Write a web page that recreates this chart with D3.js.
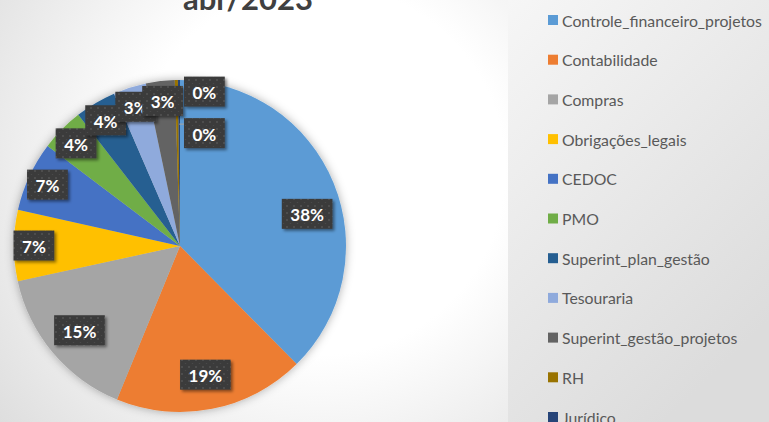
<!DOCTYPE html>
<html>
<head>
<meta charset="utf-8">
<script src="https://cdn.jsdelivr.net/npm/d3@7"></script>
<style>
  html, body { margin: 0; padding: 0; background: #fff; }
  svg { display: block; }
</style>
</head>
<body>
<svg id="chart" width="769" height="422"></svg>
<script>
// Share of demands per area, abr/2023 (percent of total)
const categories = [
  "Controle_financeiro_projetos", "Contabilidade", "Compras", "Obrigações_legais",
  "CEDOC", "PMO", "Superint_plan_gestão", "Tesouraria",
  "Superint_gestão_projetos", "RH", "Jurídico"
];
const shares = [37.6, 18.6, 15.4, 6.9, 6.8, 4.2, 4.0, 3.2, 2.8, 0.3, 0.2];
const colors = [
  "#5B9BD5", "#ED7D31", "#A5A5A5", "#FFC000", "#4472C4", "#70AD47",
  "#255E91", "#8FAADC", "#636363", "#997300", "#264478"
];
const title = "abr/2023";

const W = 769, H = 422;
const svg = d3.select("#chart");
const defs = svg.append("defs");

// Backgrounds: chart area radial fill and legend panel fill
const bg = defs.append("radialGradient").attr("id", "bgGrad")
  .attr("gradientUnits", "userSpaceOnUse").attr("cx", 320).attr("cy", 170).attr("r", 440);
bg.append("stop").attr("offset", "0").attr("stop-color", "#ffffff");
bg.append("stop").attr("offset", "0.42").attr("stop-color", "#ffffff");
bg.append("stop").attr("offset", "1").attr("stop-color", "#d9d9d9");

const lg = defs.append("linearGradient").attr("id", "legGrad")
  .attr("x1", "0").attr("y1", "0").attr("x2", "0.6").attr("y2", "1");
lg.append("stop").attr("offset", "0").attr("stop-color", "#f6f6f6");
lg.append("stop").attr("offset", "1").attr("stop-color", "#dcdcdc");

// Soft halo around the pie
const glow = defs.append("filter").attr("id", "pieGlow")
  .attr("x", "-20%").attr("y", "-20%").attr("width", "140%").attr("height", "140%");
glow.append("feDropShadow").attr("dx", 0).attr("dy", 0).attr("stdDeviation", 5)
  .attr("flood-color", "#000").attr("flood-opacity", 0.32);

// Shadow under the label boxes
const boxShadow = defs.append("filter").attr("id", "boxShadow")
  .attr("x", "-30%").attr("y", "-30%").attr("width", "160%").attr("height", "160%");
boxShadow.append("feDropShadow").attr("dx", 2).attr("dy", 2).attr("stdDeviation", 1.6)
  .attr("flood-color", "#000").attr("flood-opacity", 0.45);

// Dotted dark fill for the label boxes
const pat = defs.append("pattern").attr("id", "dots")
  .attr("patternUnits", "userSpaceOnUse").attr("width", 7).attr("height", 7);
pat.append("rect").attr("width", 7).attr("height", 7).attr("fill", "#3b3b3b");
pat.append("circle").attr("cx", 2).attr("cy", 2).attr("r", 0.9).attr("fill", "#555555");
pat.append("circle").attr("cx", 5.5).attr("cy", 5.5).attr("r", 0.6).attr("fill", "#4a4a4a");

svg.append("rect").attr("width", W).attr("height", H).attr("fill", "url(#bgGrad)");
svg.append("rect").attr("x", 508).attr("y", 0).attr("width", W - 508).attr("height", H)
  .attr("fill", "url(#legGrad)");

// Title (partly above the visible area)
svg.append("text")
  .attr("x", 248).attr("y", 10)
  .attr("text-anchor", "middle")
  .attr("font-family", "Lato, 'Open Sans', sans-serif")
  .attr("font-weight", 700)
  .attr("font-size", 31)
  .attr("fill", "#404040")
  .text(title);

// Pie
const cx = 180, cy = 246, R = 166;
const data = categories.map((c, i) => ({ name: c, value: shares[i], color: colors[i] }));
const total = d3.sum(shares);
const pie = d3.pie().value(d => d.value).sort(null);
const arcs = pie(data);
const arc = d3.arc().innerRadius(0).outerRadius(R);

const g = svg.append("g").attr("transform", `translate(${cx},${cy})`);
g.append("g").attr("filter", "url(#pieGlow)")
  .selectAll("path").data(arcs).join("path")
  .attr("d", arc)
  .attr("fill", d => d.data.color);

// Data labels
const pctOf = v => Math.round(v / total * 100);
const fontLbl = "Lato, 'Open Sans', sans-serif";
const labels = g.append("g");
let tinyIndex = 0;
arcs.forEach(a => {
  const share = a.data.value / total * 100;
  let mid = (a.startAngle + a.endAngle) / 2;
  // the dominant slice keeps its label nearer to the horizontal
  if (share > 30) mid = a.startAngle + (a.endAngle - a.startAngle) * 0.56;
  let x, y, leader = null;
  const txt = pctOf(a.data.value) + "%";
  const grp = labels.append("g");
  const t = grp.append("text")
    .attr("text-anchor", "middle")
    .attr("dominant-baseline", "central")
    .attr("font-family", fontLbl)
    .attr("font-weight", 700)
    .attr("font-size", 17)
    .attr("fill", "#ffffff")
    .text(txt);
  const tw = t.node().getComputedTextLength();
  const bw = tw + 17, bh = 30;
  if (share < 1) {
    // very thin slices: labels stacked in a column right of the slice
    const ry = R * (0.93 - tinyIndex * 0.25);
    x = 4 + bw / 2;
    y = -ry;
    if (tinyIndex > 0) {
      const sy = y - bh / 2 + 6;
      leader = [[Math.sin(mid) * Math.abs(sy), sy], [x - bw / 2, sy]];
    }
    tinyIndex++;
  } else {
    const rr = share >= 10 ? R * 0.79 : R * 0.88;
    x = Math.sin(mid) * rr;
    y = -Math.cos(mid) * rr;
  }
  if (leader) {
    labels.insert("line", ":first-child")
      .attr("x1", leader[0][0]).attr("y1", leader[0][1])
      .attr("x2", leader[1][0]).attr("y2", leader[1][1])
      .attr("stroke", "#a6a6a6").attr("stroke-width", 1);
  }
  grp.insert("rect", "text")
    .attr("x", x - bw / 2).attr("y", y - bh / 2)
    .attr("width", bw).attr("height", bh)
    .attr("fill", "url(#dots)")
    .attr("filter", "url(#boxShadow)");
  t.attr("x", x).attr("y", y + 1);
});

// Legend
const legY = d3.scalePoint().domain(categories).range([20, 417]);
const leg = svg.append("g");
const items = leg.selectAll("g").data(data).join("g")
  .attr("transform", d => `translate(548,${legY(d.name)})`);
items.append("rect").attr("x", 0).attr("y", -5).attr("width", 10).attr("height", 10)
  .attr("fill", d => d.color);
items.append("text")
  .attr("x", 14).attr("y", 0)
  .attr("dominant-baseline", "central")
  .attr("font-family", "Lato, 'Open Sans', sans-serif")
  .attr("font-size", 15.8)
  .attr("fill", "#595959")
  .text(d => d.name);
</script>
</body>
</html>
